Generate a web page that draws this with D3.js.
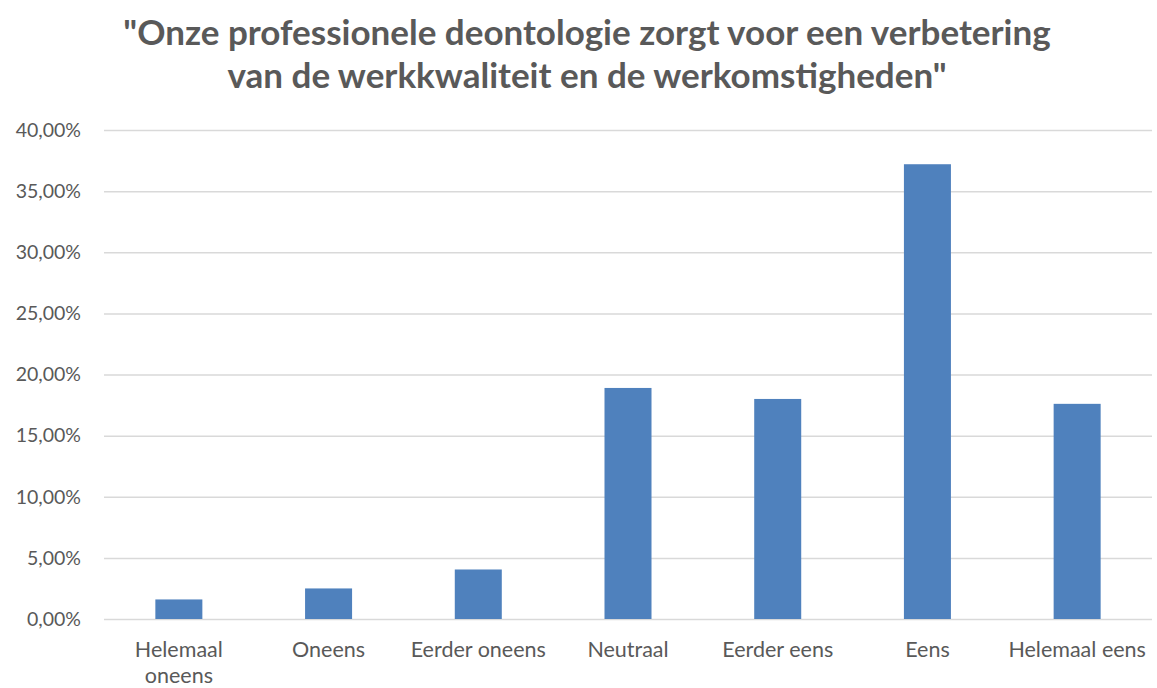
<!DOCTYPE html>
<html>
<head>
<meta charset="utf-8">
<script src="https://cdnjs.cloudflare.com/ajax/libs/d3/7.8.5/d3.min.js"></script>
<style>
  body { margin: 0; background: #fff; }
  text { font-family: Lato, "Noto Sans", sans-serif; fill: #595959; }
  .title { font-weight: bold; font-size: 35px; }
  .yaxis .tick text { font-size: 19.5px; }
  .xaxis .tick text { font-size: 21.5px; }
</style>
</head>
<body>
<svg width="1157" height="688"></svg>
<script>
// chart data
var titleLines = ["\"Onze professionele deontologie zorgt voor een verbetering",
                  "van de werkkwaliteit en de werkomstigheden\""];
var categories = ["Helemaal oneens", "Oneens", "Eerder oneens", "Neutraal", "Eerder eens", "Eens", "Helemaal eens"];
var values = [1.6, 2.5, 4.05, 18.9, 18.0, 37.2, 17.6];
var yTicks = [0, 5, 10, 15, 20, 25, 30, 35, 40];

// margins
var margin = { top: 130, bottom: 69, left: 104, right: 5 };
var width = 1157 - margin.left - margin.right;
var height = 688 - margin.top - margin.bottom;

var svg = d3.select("svg");

var graph = svg.append("g")
	.attr("transform", "translate(" + margin.left + "," + margin.top + ")");

// scales
var xscale = d3.scaleBand().domain(categories).range([0, width]).paddingInner(0.686).paddingOuter(0.343);
var yscale = d3.scaleLinear().domain([0, 40]).range([height, 0]);

// title
svg.selectAll(".title")
	.data(titleLines)
	.enter().append("text")
	.attr("class", "title")
	.attr("x", 587)
	.attr("y", function(d, i) { return 45 + i * 43; })
	.attr("text-anchor", "middle")
	.text(function(d) { return d; });

// gridlines + y labels
var yaxis = d3.axisLeft(yscale)
	.tickValues(yTicks)
	.tickSize(-width)
	.tickPadding(23)
	.tickFormat(function(d) { return d3.format(".2f")(d).replace(".", ",") + "%"; });

graph.append("g")
	.attr("class", "yaxis")
	.call(yaxis)
	.call(function(g) {
		g.select(".domain").remove();
		g.selectAll(".tick line").attr("stroke", "#d9d9d9").attr("stroke-width", 1.5);
	});

// bars
graph.selectAll(".bar")
	.data(values)
	.enter().append("rect")
	.attr("class", "bar")
	.attr("x", function(d, i) { return xscale(categories[i]); })
	.attr("width", xscale.bandwidth())
	.attr("y", function(d) { return yscale(d); })
	.attr("height", function(d) { return height - yscale(d); })
	.attr("fill", "#4f81bd");

// x labels, wrapped like the original
var xaxis = d3.axisBottom(xscale).tickSize(0).tickPadding(23);
graph.append("g")
	.attr("class", "xaxis")
	.attr("transform", "translate(0," + height + ")")
	.call(xaxis)
	.call(function(g) {
		g.select(".domain").remove();
		g.selectAll(".tick text").each(function(d) {
			var t = d3.select(this);
			if (d === "Helemaal oneens") {
				t.text(null);
				t.append("tspan").attr("x", 0).attr("dy", "0.71em").text("Helemaal");
				t.append("tspan").attr("x", 0).attr("dy", "1.2em").text("oneens");
				t.attr("dy", null);
			}
		});
	});
</script>
</body>
</html>
